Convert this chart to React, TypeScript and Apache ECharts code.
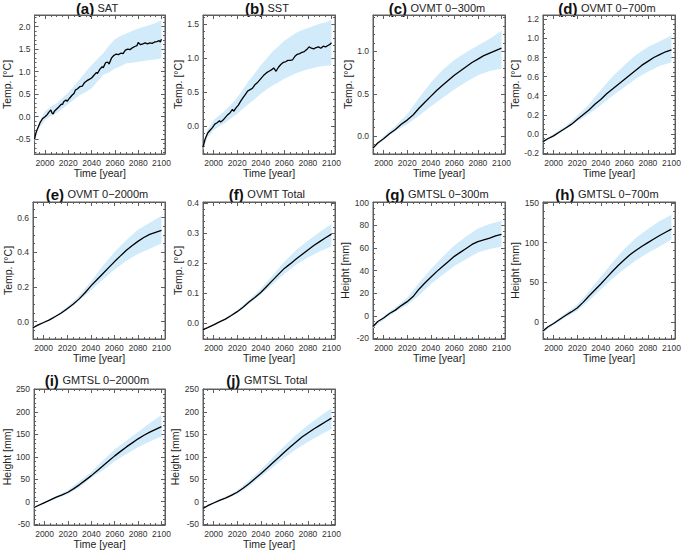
import React, { useEffect, useRef } from "react";
import * as echarts from "echarts";

// ---------- data ----------
const SAT_YEARS = [1991, 1992, 1993, 1994, 1995, 1996, 1997, 1998, 2000, 2002, 2003, 2005, 2006, 2007, 2008, 2010, 2012, 2014, 2015, 2016, 2018, 2019, 2021, 2023, 2025, 2026, 2028, 2030, 2032, 2034, 2036, 2038, 2040, 2042, 2044, 2045, 2047, 2049, 2050, 2052, 2054, 2055, 2057, 2059, 2061, 2063, 2065, 2067, 2069, 2071, 2073, 2075, 2077, 2079, 2080, 2082, 2084, 2086, 2088, 2090, 2092, 2094, 2096, 2098, 2099, 2100];
const SAT_MEAN = [-0.5, -0.38, -0.3, -0.24, -0.18, -0.12, -0.08, -0.04, 0.0, 0.05, 0.09, 0.15, 0.08, 0.06, 0.12, 0.17, 0.22, 0.28, 0.27, 0.33, 0.37, 0.34, 0.41, 0.47, 0.52, 0.59, 0.62, 0.67, 0.68, 0.76, 0.8, 0.83, 0.86, 0.92, 0.98, 0.96, 1.05, 1.11, 1.09, 1.2, 1.21, 1.17, 1.3, 1.36, 1.39, 1.38, 1.41, 1.4, 1.48, 1.5, 1.49, 1.53, 1.56, 1.58, 1.65, 1.6, 1.62, 1.64, 1.62, 1.64, 1.63, 1.66, 1.67, 1.69, 1.66, 1.72];

const SST_YEARS = [1991, 1992, 1993, 1994, 1995, 1997, 1999, 2001, 2003, 2005, 2006, 2008, 2010, 2012, 2014, 2016, 2017, 2019, 2021, 2023, 2025, 2027, 2029, 2031, 2033, 2035, 2037, 2039, 2041, 2043, 2045, 2047, 2049, 2051, 2053, 2055, 2057, 2059, 2061, 2063, 2065, 2067, 2069, 2071, 2073, 2075, 2077, 2079, 2081, 2083, 2085, 2087, 2089, 2091, 2093, 2095, 2097, 2099, 2100];
const SST_MEAN = [-0.31, -0.24, -0.18, -0.14, -0.1, -0.06, -0.02, 0.03, 0.05, 0.08, 0.06, 0.09, 0.13, 0.17, 0.2, 0.25, 0.22, 0.27, 0.31, 0.37, 0.42, 0.47, 0.52, 0.54, 0.56, 0.61, 0.64, 0.68, 0.72, 0.76, 0.79, 0.81, 0.83, 0.86, 0.81, 0.87, 0.91, 0.94, 0.95, 0.97, 0.97, 0.98, 1.03, 1.06, 1.07, 1.09, 1.1, 1.13, 1.17, 1.15, 1.14, 1.16, 1.17, 1.15, 1.18, 1.17, 1.19, 1.21, 1.23];

const BAND_YEARS_5 = [1991, 1995, 2000, 2005, 2010, 2015, 2020, 2025, 2030, 2035, 2040, 2045, 2050, 2055, 2060, 2065, 2070, 2075, 2080, 2085, 2090, 2095, 2100];
const SAT_LOW = [-0.55, -0.25, -0.08, 0.02, 0.08, 0.18, 0.28, 0.38, 0.48, 0.55, 0.63, 0.78, 0.93, 0.98, 1.07, 1.12, 1.19, 1.2, 1.22, 1.24, 1.26, 1.27, 1.3];
const SAT_HIGH = [-0.45, -0.12, 0.12, 0.22, 0.3, 0.42, 0.54, 0.68, 0.84, 1.0, 1.15, 1.28, 1.41, 1.58, 1.72, 1.8, 1.85, 1.91, 1.96, 2.0, 2.04, 2.08, 2.15];
const SST_LOW = [-0.35, -0.16, -0.06, 0.0, 0.05, 0.12, 0.18, 0.26, 0.33, 0.4, 0.48, 0.54, 0.6, 0.65, 0.7, 0.74, 0.78, 0.81, 0.84, 0.86, 0.88, 0.89, 0.9];
const SST_HIGH = [-0.28, -0.05, 0.09, 0.16, 0.24, 0.32, 0.42, 0.55, 0.67, 0.78, 0.9, 1.0, 1.1, 1.18, 1.26, 1.32, 1.38, 1.42, 1.45, 1.48, 1.51, 1.53, 1.57];

const MEAN_YEARS = [1991, 1995, 2000, 2005, 2010, 2015, 2020, 2025, 2030, 2035, 2040, 2045, 2050, 2055, 2060, 2065, 2070, 2075, 2080, 2085, 2090, 2095, 2100];
const BAND_YEARS_10 = [1991, 2000, 2010, 2020, 2030, 2040, 2050, 2060, 2070, 2080, 2090, 2100];

const OVMT300_MEAN = [-0.14, -0.08, -0.03, 0.03, 0.08, 0.14, 0.19, 0.25, 0.33, 0.4, 0.47, 0.54, 0.6, 0.66, 0.72, 0.77, 0.82, 0.87, 0.91, 0.95, 0.98, 1.01, 1.04];
const OVMT300_LOW = [-0.15, -0.04, 0.06, 0.14, 0.24, 0.35, 0.45, 0.55, 0.64, 0.72, 0.77, 0.8];
const OVMT300_HIGH = [-0.13, 0.0, 0.12, 0.26, 0.45, 0.63, 0.78, 0.9, 0.99, 1.07, 1.15, 1.24];

const OVMT700_MEAN = [-0.08, -0.05, -0.02, 0.02, 0.06, 0.1, 0.15, 0.2, 0.25, 0.31, 0.36, 0.42, 0.47, 0.52, 0.57, 0.62, 0.67, 0.72, 0.76, 0.8, 0.83, 0.86, 0.88];
const OVMT700_LOW = [-0.09, -0.03, 0.05, 0.13, 0.21, 0.3, 0.4, 0.49, 0.58, 0.65, 0.71, 0.75];
const OVMT700_HIGH = [-0.07, 0.0, 0.08, 0.19, 0.31, 0.46, 0.6, 0.72, 0.83, 0.91, 0.97, 1.03];

const OVMT2000_MEAN = [-0.035, -0.02, -0.005, 0.01, 0.03, 0.05, 0.075, 0.1, 0.13, 0.165, 0.205, 0.24, 0.275, 0.31, 0.345, 0.378, 0.41, 0.438, 0.463, 0.485, 0.503, 0.515, 0.527];
const OVMT2000_LOW = [-0.04, -0.01, 0.025, 0.065, 0.12, 0.18, 0.24, 0.3, 0.35, 0.39, 0.42, 0.45];
const OVMT2000_HIGH = [-0.03, 0.0, 0.035, 0.085, 0.15, 0.23, 0.32, 0.4, 0.47, 0.53, 0.57, 0.61];

const OVMTTOT_MEAN = [-0.022, -0.015, -0.006, 0.004, 0.013, 0.025, 0.038, 0.053, 0.07, 0.085, 0.102, 0.122, 0.142, 0.162, 0.182, 0.197, 0.213, 0.228, 0.243, 0.258, 0.271, 0.284, 0.296];
const OVMTTOT_LOW = [-0.024, -0.008, 0.011, 0.035, 0.064, 0.094, 0.128, 0.163, 0.194, 0.218, 0.238, 0.255];
const OVMTTOT_HIGH = [-0.02, -0.004, 0.016, 0.043, 0.077, 0.114, 0.158, 0.204, 0.243, 0.274, 0.303, 0.33];

const GMTSL300_MEAN = [-9.5, -5, -2, 2, 5, 9, 12.5, 17, 23.5, 29, 34, 39, 43.5, 48, 52.5, 56, 59.5, 63, 65.5, 67, 68.5, 70.5, 72];
const GMTSL300_LOW = [-11, -3.5, 3.5, 9.5, 18, 28, 36, 44, 50, 56, 59, 61];
const GMTSL300_HIGH = [-8.5, -0.5, 7.5, 16, 29, 41, 52, 62, 70, 77, 81, 84];

const GMTSL700_MEAN = [-11, -6, -1.5, 3.5, 8.5, 13, 18, 25, 33, 40.5, 48, 56, 64, 71.5, 78.5, 85, 90.5, 95.5, 100, 104.5, 109, 113, 117];
const GMTSL700_LOW = [-13, -3, 6, 14, 27, 41, 55, 67, 78, 87, 95, 104];
const GMTSL700_HIGH = [-9, 0, 11, 22, 39, 57, 75, 92, 106, 117, 127, 135];

const GMTSL2000_MEAN = [-13, -8, -2, 4, 10, 15, 21, 29, 38, 48, 58, 69, 80, 91, 102, 112, 122, 131, 140, 148, 155, 161, 167];
const GMTSL2000_LOW = [-15, -4, 7, 17, 32, 53, 70, 90, 106, 121, 134, 145];
const GMTSL2000_HIGH = [-11, 0, 12, 26, 46, 66, 92, 116, 136, 155, 175, 193];

const GMTSLTOT_MEAN = [-15, -9, -3, 3, 8, 14, 21, 30, 40, 51, 62, 74, 86, 98, 110, 122, 133, 144, 153, 162, 170, 178, 186];
const GMTSLTOT_LOW = [-17, -5, 6, 17, 34, 55, 76, 97, 117, 133, 148, 162];
const GMTSLTOT_HIGH = [-13, -1, 11, 25, 47, 71, 98, 124, 149, 170, 190, 208];

const X_TICK_LABELS_STEP = 20;

// ---------- panel definitions ----------
type Panel = {
  tag: string; name: string; yName: string; yMin: number; yMax: number; yStep: number;
  dec: number; minor: number; meanYears: number[]; mean: number[]; bandYears: number[];
  low: number[]; high: number[];
};

const PANELS: Panel[] = [
  { tag: "(a)", name: "SAT", yName: "Temp. [°C]", yMin: -0.83, yMax: 2.26, yStep: 0.5, dec: 1, minor: 5, meanYears: SAT_YEARS, mean: SAT_MEAN, bandYears: BAND_YEARS_5, low: SAT_LOW, high: SAT_HIGH },
  { tag: "(b)", name: "SST", yName: "Temp. [°C]", yMin: -0.41, yMax: 1.64, yStep: 0.5, dec: 1, minor: 5, meanYears: SST_YEARS, mean: SST_MEAN, bandYears: BAND_YEARS_5, low: SST_LOW, high: SST_HIGH },
  { tag: "(c)", name: "OVMT 0\u2212300m", yName: "Temp. [°C]", yMin: -0.21, yMax: 1.43, yStep: 0.5, dec: 1, minor: 5, meanYears: MEAN_YEARS, mean: OVMT300_MEAN, bandYears: BAND_YEARS_10, low: OVMT300_LOW, high: OVMT300_HIGH },
  { tag: "(d)", name: "OVMT 0\u2212700m", yName: "Temp. [°C]", yMin: -0.21, yMax: 1.245, yStep: 0.2, dec: 1, minor: 4, meanYears: MEAN_YEARS, mean: OVMT700_MEAN, bandYears: BAND_YEARS_10, low: OVMT700_LOW, high: OVMT700_HIGH },
  { tag: "(e)", name: "OVMT 0\u22122000m", yName: "Temp. [°C]", yMin: -0.1, yMax: 0.69, yStep: 0.2, dec: 1, minor: 4, meanYears: MEAN_YEARS, mean: OVMT2000_MEAN, bandYears: BAND_YEARS_10, low: OVMT2000_LOW, high: OVMT2000_HIGH },
  { tag: "(f)", name: "OVMT Total", yName: "Temp. [°C]", yMin: -0.053, yMax: 0.403, yStep: 0.1, dec: 1, minor: 5, meanYears: MEAN_YEARS, mean: OVMTTOT_MEAN, bandYears: BAND_YEARS_10, low: OVMTTOT_LOW, high: OVMTTOT_HIGH },
  { tag: "(g)", name: "GMTSL 0\u2212300m", yName: "Height [mm]", yMin: -20.5, yMax: 100.5, yStep: 20, dec: 0, minor: 4, meanYears: MEAN_YEARS, mean: GMTSL300_MEAN, bandYears: BAND_YEARS_10, low: GMTSL300_LOW, high: GMTSL300_HIGH },
  { tag: "(h)", name: "GMTSL 0\u2212700m", yName: "Height [mm]", yMin: -21, yMax: 151, yStep: 50, dec: 0, minor: 5, meanYears: MEAN_YEARS, mean: GMTSL700_MEAN, bandYears: BAND_YEARS_10, low: GMTSL700_LOW, high: GMTSL700_HIGH },
  { tag: "(i)", name: "GMTSL 0\u22122000m", yName: "Height [mm]", yMin: -52, yMax: 251, yStep: 50, dec: 0, minor: 5, meanYears: MEAN_YEARS, mean: GMTSL2000_MEAN, bandYears: BAND_YEARS_10, low: GMTSL2000_LOW, high: GMTSL2000_HIGH },
  { tag: "(j)", name: "GMTSL Total", yName: "Height [mm]", yMin: -52, yMax: 251, yStep: 50, dec: 0, minor: 5, meanYears: MEAN_YEARS, mean: GMTSLTOT_MEAN, bandYears: BAND_YEARS_10, low: GMTSLTOT_LOW, high: GMTSLTOT_HIGH },
];

// ---------- layout ----------
const COL_LEFT = [33, 203, 373, 543];
const ROW_TOP = [15, 202, 389];
const ROW_H = [139, 137, 136];
const TITLE_Y = [8, 194, 380];
const PANEL_W = 132;

const FONT = "'Liberation Sans', Arial, Helvetica, sans-serif";
const FRAME = "#5e5e5e";
const BAND = "#d2ebfb";

function onStep(v: number, step: number) {
  const r = v / step;
  return Math.abs(r - Math.round(r)) < 1e-6;
}

function buildOption() {
  const grid: any[] = [];
  const xAxis: any[] = [];
  const yAxis: any[] = [];
  const series: any[] = [];
  const graphic: any[] = [];

  PANELS.forEach((p, k) => {
    const col = k % 4;
    const row = Math.floor(k / 4);
    const left = COL_LEFT[col];
    const top = ROW_TOP[row];
    const h = ROW_H[row];
    grid.push({
      left, top, width: PANEL_W, height: h, containLabel: false,
      show: true, borderColor: FRAME, borderWidth: 1, backgroundColor: "transparent",
    });

    const tickCommon = {
      show: true,
      axisLine: { show: true, onZero: false, lineStyle: { color: FRAME, width: 1 } },
      axisTick: { show: true, inside: true, length: 4, lineStyle: { color: FRAME, width: 1 } },
      splitLine: { show: false },
    };
    const xBase = {
      type: "value",
      gridIndex: k,
      min: 1991,
      max: 2103,
      minInterval: X_TICK_LABELS_STEP,
      maxInterval: X_TICK_LABELS_STEP,
      minorTick: { show: true, splitNumber: 4, length: 2, lineStyle: { color: FRAME, width: 1 } },
      ...tickCommon,
    };
    xAxis.push({
      ...xBase,
      position: "bottom",
      name: "Time [year]",
      nameLocation: "middle",
      nameGap: 13,
      nameTextStyle: { fontFamily: FONT, fontSize: 10.5, color: "#222" },
      axisLabel: {
        show: true, margin: 4, fontFamily: FONT, fontSize: 8.5, color: "#333",
        formatter: (v: number) => (onStep(v, X_TICK_LABELS_STEP) ? String(v) : ""),
      },
    });
    xAxis.push({ ...xBase, position: "top", axisLabel: { show: false } });

    const yBase = {
      type: "value",
      gridIndex: k,
      min: p.yMin,
      max: p.yMax,
      minInterval: p.yStep,
      maxInterval: p.yStep,
      minorTick: { show: true, splitNumber: p.minor, length: 2, lineStyle: { color: FRAME, width: 1 } },
      ...tickCommon,
    };
    yAxis.push({
      ...yBase,
      position: "left",
      name: p.yName,
      nameLocation: "middle",
      nameGap: 18,
      nameRotate: 90,
      nameTextStyle: { fontFamily: FONT, fontSize: 10.5, color: "#222" },
      axisLabel: {
        show: true, margin: 4, fontFamily: FONT, fontSize: 8.5, color: "#333",
        formatter: (v: number) => (onStep(v, p.yStep) ? v.toFixed(p.dec) : ""),
      },
    });
    yAxis.push({ ...yBase, position: "right", axisLabel: { show: false } });

    // uncertainty band: one polygon through the axis scales
    const bandData = p.bandYears.map((x, i) => [x, p.low[i], p.high[i]]);
    series.push({
      type: "custom",
      coordinateSystem: "cartesian2d",
      xAxisIndex: 2 * k,
      yAxisIndex: 2 * k,
      data: bandData,
      encode: { x: 0, y: [1, 2] },
      silent: true,
      z: 1,
      renderItem: (params: any, api: any) => {
        if (params.dataIndex !== 0) return null;
        const upper = bandData.map((d) => api.coord([d[0], d[2]]));
        const lower = bandData.map((d) => api.coord([d[0], d[1]])).reverse();
        return {
          type: "polygon",
          shape: { points: upper.concat(lower) },
          style: { fill: BAND, stroke: "none" },
        };
      },
    });
    // dummy series so the top/right frame axes are attached
    series.push({
      type: "line", xAxisIndex: 2 * k + 1, yAxisIndex: 2 * k + 1, data: [],
      symbol: "none", silent: true,
    });
    series.push({
      type: "line", xAxisIndex: 2 * k, yAxisIndex: 2 * k,
      data: p.meanYears.map((x, i) => [x, p.mean[i]]),
      symbol: "none", silent: true, lineStyle: { color: "#000", width: 1.3 }, z: 5,
    });

    graphic.push({
      type: "text",
      x: left + PANEL_W / 2 - 2,
      y: TITLE_Y[row],
      style: {
        text: `{b|${p.tag}} {n|${p.name}}`,
        align: "center",
        verticalAlign: "middle",
        rich: {
          b: { fontFamily: FONT, fontSize: 15, fontWeight: "bold", fill: "#111" },
          n: { fontFamily: FONT, fontSize: 11, fill: "#222" },
        },
      },
    });
  });

  return { animation: false, backgroundColor: "#fff", grid, xAxis, yAxis, series, graphic };
}

export default function App() {
  const ref = useRef<HTMLDivElement>(null);
  useEffect(() => {
    if (!ref.current) return;
    const chart = echarts.init(ref.current, undefined, { renderer: "svg" });
    chart.setOption(buildOption() as any);
    return () => chart.dispose();
  }, []);
  return (
    <div
      ref={ref}
      style={{ position: "absolute", left: 0, top: 0, width: 685, height: 551, background: "#fff" }}
    />
  );
}
